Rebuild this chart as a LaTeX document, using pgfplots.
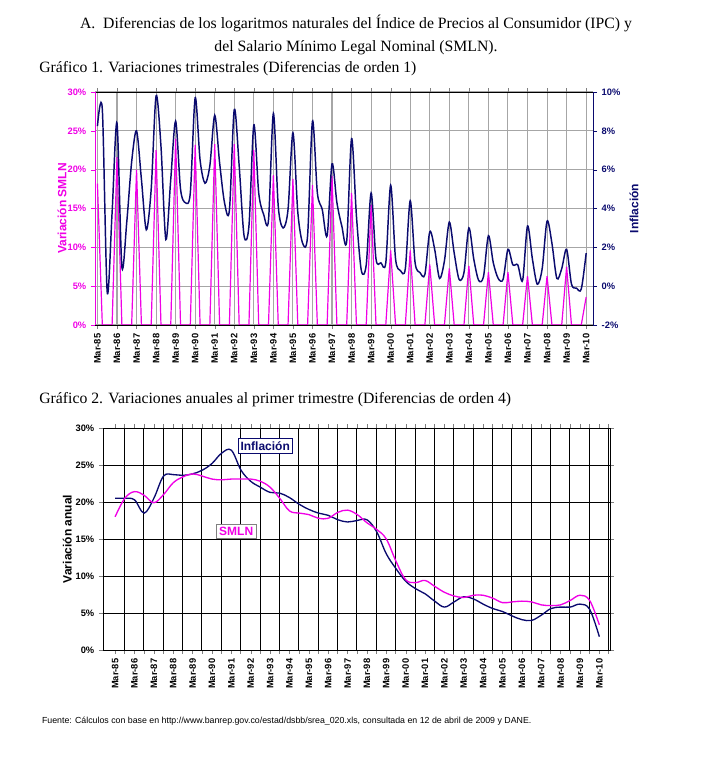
\documentclass[border=0pt]{standalone}
\usepackage{pgfplots}
\pgfplotsset{compat=1.18}
\usepackage{fontspec}
\setmainfont{Liberation Serif}
\setsansfont{Liberation Sans}
\definecolor{pk}{RGB}{240,0,230}
\definecolor{nv}{RGB}{10,10,110}
\pgfplotsset{
 common/.style={scale only axis, xmin=-0.5, xmax=101.4,
  xtick={0,4,...,100},
  xticklabels={Mar-85,Mar-86,Mar-87,Mar-88,Mar-89,Mar-90,Mar-91,Mar-92,Mar-93,Mar-94,Mar-95,Mar-96,Mar-97,Mar-98,Mar-99,Mar-00,Mar-01,Mar-02,Mar-03,Mar-04,Mar-05,Mar-06,Mar-07,Mar-08,Mar-09,Mar-10},
  x tick label style={rotate=90, anchor=east, font=\sffamily\bfseries\scriptsize},
  y tick label style={font=\sffamily\bfseries\scriptsize},
  /pgf/number format/assume math mode=true,
  tick align=outside, major tick length=3pt,
  yticklabel={\pgfmathprintnumber{\tick}\%}}
}
\begin{document}
\begin{tikzpicture}
\path (0,0) rectangle (544.5pt,568.5pt);
\node[anchor=base, font=\fontsize{11.8}{13}\selectfont] at (267pt,547pt) {A.\ \ Diferencias de los logaritmos naturales del Índice de Precios al Consumidor (IPC) y};
\node[anchor=base, font=\fontsize{11.8}{13}\selectfont] at (267pt,530pt) {del Salario Mínimo Legal Nominal (SMLN).};
\node[anchor=base west, font=\fontsize{11.8}{13}\selectfont] at (26pt,514pt) {Gráfico 1. Variaciones trimestrales (Diferencias de orden 1)};
\node[anchor=base west, font=\fontsize{11.8}{13}\selectfont] at (26pt,266pt) {Gráfico 2. Variaciones anuales al primer trimestre (Diferencias de orden 4)};
\node[anchor=base west, font=\sffamily\fontsize{6.6}{8}\selectfont] at (28pt,26pt) {Fuente: Cálculos con base en http://www.banrep.gov.co/estad/dsbb/srea\_020.xls, consultada en 12 de abril de 2009 y DANE.};

% Chart 1 left axis
\begin{axis}[common, at={(71.25pt,324.75pt)}, anchor=south west, width=373.5pt, height=174.75pt,
  ymin=0, ymax=30, ytick={0,5,...,30}, axis y line*=left,
  axis line style={pk}, x axis line style={black},
  y tick label style={pk}, ytick style={pk},
  xmajorgrids, ymajorgrids, grid style={gray!70, line width=0.8pt},
  ylabel={Variación SMLN}, ylabel style={pk, font=\sffamily\bfseries\small, yshift=-6pt}]
\addplot[pk, line width=0.9pt, sharp plot] coordinates {
(0,18.2)(1,0)(3,0)(4,21.6)(5,0)(7,0)(8,20.0)(9,0)(11,0)(12,22.5)(13,0)(15,0)(16,24.0)(17,0)(19,0)(20,23.2)(21,0)(23,0)(24,23.3)(25,0)(27,0)(28,23.3)(29,0)(31,0)(32,22.5)(33,0)(35,0)(36,19.3)(37,0)(39,0)(40,18.8)(41,0)(43,0)(44,18.0)(45,0)(47,0)(48,19.2)(49,0)(51,0)(52,17.0)(53,0)(55,0)(56,15.5)(57,0)(59,0)(60,9.6)(61,0)(63,0)(64,9.6)(65,0)(67,0)(68,7.8)(69,0)(71,0)(72,7.3)(73,0)(75,0)(76,7.6)(77,0)(79,0)(80,6.8)(81,0)(83,0)(84,6.8)(85,0)(87,0)(88,6.3)(89,0)(91,0)(92,6.3)(93,0)(95,0)(96,7.5)(97,0)(99,0)(100,3.6)};
\end{axis}
% Chart 1 right axis
\begin{axis}[common, at={(71.25pt,324.75pt)}, anchor=south west, width=373.5pt, height=174.75pt,
  ymin=-2, ymax=10, ytick={-2,0,...,10}, axis y line*=right, axis x line=none,
  axis line style={nv}, y tick label style={nv}, ytick style={nv},
  ylabel={Inflación}, ylabel style={nv, font=\sffamily\bfseries\small}]
\addplot[nv, line width=1.1pt, smooth, tension=0.5] coordinates {
(0,8.24)(1,9.1)(2,-0.3)(3,3.8)(4,8.4)(5,1.0)(6,3.3)(7,6.4)(8,8.0)(9,5.5)(10,2.9)(11,5.0)(12,9.8)(13,7.2)(14,2.4)(15,5.5)(16,8.5)(17,5.0)(18,4.3)(19,4.8)(20,9.7)(21,6.5)(22,5.3)(23,6.2)(24,8.8)(25,6.35)(26,4.3)(27,3.9)(28,9.1)(29,6.2)(30,2.6)(31,3.1)(32,8.3)(33,4.8)(34,3.7)(35,3.4)(36,8.9)(37,4.1)(38,3.0)(39,3.95)(40,7.9)(41,3.8)(42,2.2)(43,2.6)(44,8.5)(45,4.8)(46,3.95)(47,2.6)(48,6.3)(49,4.3)(50,3.1)(51,2.3)(52,7.6)(53,3.6)(54,0.8)(55,1.1)(56,4.8)(57,1.4)(58,1.2)(59,1.2)(60,5.2)(61,1.4)(62,0.8)(63,0.9)(64,4.4)(65,1.2)(66,0.7)(67,0.6)(68,2.8)(69,1.9)(70,0.4)(71,1.3)(72,3.3)(73,1.7)(74,0.35)(75,0.7)(76,3.0)(77,1.4)(78,0.3)(79,0.5)(80,2.6)(81,1.2)(82,0.4)(83,0.35)(84,1.9)(85,1.1)(86,1.1)(87,0.3)(88,3.1)(89,1.4)(90,0.1)(91,0.9)(92,3.35)(93,2.2)(94,0.4)(95,0.9)(96,1.9)(97,0.1)(98,-0.1)(99,-0.15)(100,1.7)};
\end{axis}

% Chart 2
\begin{axis}[common, at={(77.25pt,81pt)}, anchor=south west, width=380.25pt, height=166.5pt,
  xmin=-2.5, xmax=102.2, ymin=0, ymax=30, ytick={0,5,...,30},
  minor xtick={1.9,5.9,...,101}, xminorgrids, ymajorgrids,
  grid style={black, line width=0.5pt}, minor grid style={black, line width=0.5pt},
  ylabel={Variación anual}, ylabel style={font=\sffamily\bfseries\small, yshift=-4pt}]
\addplot[nv, line width=1pt, smooth, tension=0.6] coordinates {
(0,20.5)(2,20.5)(4,20.3)(6,18.5)(8,20.5)(10,23.5)(12,23.7)(14,23.6)(16,23.8)(18,24.3)(20,25.2)(22,26.6)(24,27.0)(26,24.3)(28,22.8)(30,22.0)(32,21.3)(34,21.2)(36,20.6)(38,19.7)(40,19.0)(42,18.5)(44,18.2)(46,17.6)(48,17.3)(50,17.5)(52,17.6)(54,16.0)(56,13.0)(58,11.0)(60,9.3)(62,8.3)(64,7.6)(66,6.6)(68,5.8)(70,6.5)(72,7.2)(74,6.9)(76,6.2)(78,5.6)(80,5.2)(82,4.6)(84,4.1)(86,4.0)(88,4.7)(90,5.6)(92,5.8)(94,5.8)(96,6.2)(98,5.5)(100,1.8)};
\addplot[pk, line width=1pt, smooth, tension=0.6] coordinates {
(0,18.0)(2,20.5)(4,21.4)(6,20.9)(8,19.9)(10,21.0)(12,22.6)(14,23.4)(16,23.8)(18,23.5)(20,23.1)(22,23.0)(24,23.1)(26,23.1)(28,23.1)(30,22.8)(32,22.0)(34,20.5)(36,18.8)(38,18.5)(40,18.3)(42,17.8)(44,17.8)(46,18.6)(48,18.9)(50,18.3)(52,17.2)(54,16.3)(56,15.0)(58,12.0)(60,9.5)(62,9.1)(64,9.4)(66,8.6)(68,7.8)(70,7.3)(72,7.1)(74,7.4)(76,7.4)(78,7.0)(80,6.4)(82,6.5)(84,6.6)(86,6.5)(88,6.1)(90,6.0)(92,6.1)(94,6.7)(96,7.4)(98,6.7)(100,3.4)};
\node[draw=nv, fill=white, text=nv, font=\sffamily\bfseries\small, inner sep=2pt] at (axis cs:31,27.6) {Inflación};
\node[draw=gray, fill=white, text=pk, font=\sffamily\bfseries\small, inner sep=2pt] at (axis cs:25,16) {SMLN};
\end{axis}
\end{tikzpicture}
\end{document}
